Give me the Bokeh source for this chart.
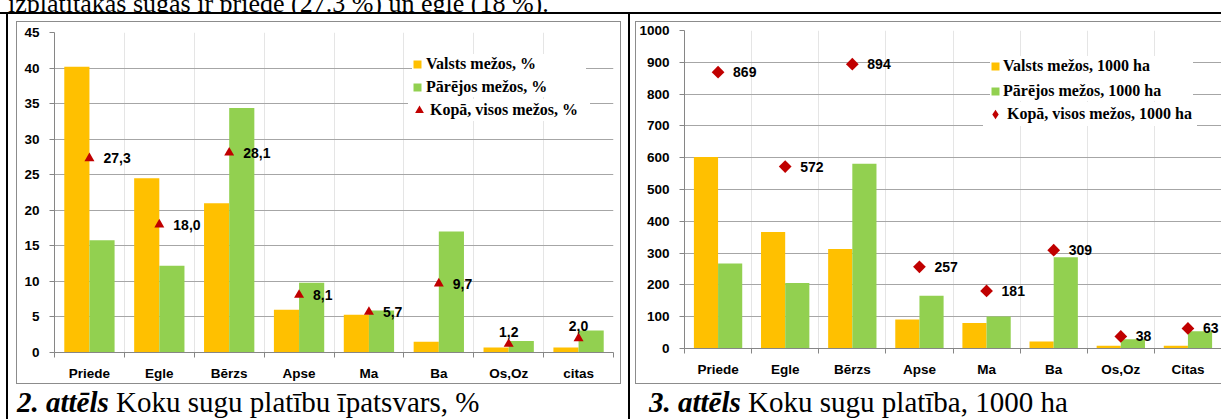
from bokeh.plotting import figure
from bokeh.models import (Range1d, LinearAxis, FixedTicker,
                          SingleIntervalTicker, ColumnDataSource, Legend, LegendItem, Div, Spacer)
from bokeh.layouts import row, column
from bokeh.transform import dodge
from bokeh.core.properties import value
from bokeh.embed import file_html
from bokeh.resources import INLINE
import math

# ---------------- data ----------------
species_pct = ["Priede", "Egle", "Bērzs", "Apse", "Ma", "Ba", "Os,Oz", "citas"]
valsts_pct = [40.2, 24.5, 21.0, 6.0, 5.3, 1.5, 0.7, 0.7]
parejie_pct = [15.8, 12.2, 34.4, 9.8, 5.9, 17.0, 1.6, 3.1]
kopa_pct = [27.3, 18.0, 28.1, 8.1, 5.7, 9.7, 1.2, 2.0]

species_ha = ["Priede", "Egle", "Bērzs", "Apse", "Ma", "Ba", "Os,Oz", "Citas"]
valsts_ha = [602, 366, 313, 91, 80, 22, 9, 9]
parejie_ha = [267, 206, 581, 166, 101, 287, 29, 54]
kopa_ha = [869, 572, 894, 257, 181, 309, 38, 63]

names_pct = ["Valsts mežos, %", "Pārējos mežos, %", "Kopā, visos mežos, %"]
names_ha = ["Valsts mežos, 1000 ha", "Pārējos mežos, 1000 ha", "Kopā, visos mežos, 1000 ha"]

caption_pct = ("2. attēls", "Koku sugu platību īpatsvars, %")
caption_ha = ("3. attēls", "Koku sugu platība, 1000 ha")
top_line = "izplatītākās sugas ir priede (27.3 %) un egle (18 %)."

# ---------------- style ----------------
ORANGE = "#FFC000"
GREEN = "#92D050"
RED = "#C00000"
AXIS = "#868686"
GRID = "#A6A6A6"
FRAME = "#8C8C8C"
SANS = "Liberation Sans"
SERIF = "Liberation Serif"


def chart(cats, valsts, parejie, kopa, texts, names, ymax, step, w, h,
          borders, marker, msize, mangle, label_dx, legA, legB, proxy_marker):
    bl, br, bt, bb = borders
    n = len(cats)
    p = figure(width=w, height=h, x_range=Range1d(0, n),
               y_range=Range1d(0, ymax), x_axis_location=None,
               output_backend="svg", toolbar_location=None,
               min_border_left=bl, min_border_right=br,
               min_border_top=bt, min_border_bottom=bb,
               background_fill_color="white", border_fill_color="white")
    p.outline_line_color = None

    ya = p.yaxis[0]
    ya.ticker = SingleIntervalTicker(interval=step, num_minor_ticks=0)
    ya.axis_line_color = AXIS
    ya.major_tick_line_color = AXIS
    ya.major_tick_out = 5
    ya.major_tick_in = 0
    ya.minor_tick_line_color = None
    ya.major_label_text_font = SANS
    ya.major_label_text_font_style = "bold"
    ya.major_label_text_font_size = "13.5px"
    ya.major_label_text_color = "black"
    ya.major_label_standoff = 10
    p.ygrid[0].ticker = ya.ticker
    p.ygrid[0].grid_line_color = GRID

    centers = [i + 0.5 for i in range(n)]
    # separator ticks between categories
    ta = LinearAxis(ticker=FixedTicker(ticks=list(range(n + 1)), minor_ticks=[]),
                    axis_line_color=AXIS, major_tick_line_color=AXIS,
                    major_tick_out=5, major_tick_in=0, minor_tick_line_color=None,
                    major_label_text_font_size="0px", major_label_text_color=None,
                    major_label_standoff=0)
    p.add_layout(ta, "below")
    # category names at centers
    ca = LinearAxis(ticker=FixedTicker(ticks=centers, minor_ticks=[]),
                    major_label_overrides={c: t for c, t in zip(centers, cats)},
                    axis_line_color=None, major_tick_line_color=None,
                    major_tick_out=0, major_tick_in=0, minor_tick_line_color=None,
                    major_label_standoff=8, major_label_text_font=SANS,
                    major_label_text_font_style="bold",
                    major_label_text_font_size="13.5px",
                    major_label_text_color="black")
    p.add_layout(ca, "below")

    small = [v < 0.07 * ymax for v in kopa]
    above = [s and label_dx == 14 for s in small]
    src = ColumnDataSource(dict(
        x=centers, valsts=valsts, parejie=parejie, kopa=kopa, txt=texts,
        xo=[0 if a else label_dx for a in above],
        yo=[-7 if a else 0 for a in above],
        al=["center" if a else "left" for a in above],
        bl=["bottom" if a else "middle" for a in above],
    ))
    r1 = p.vbar(x=dodge("x", -0.18), top="valsts", width=0.36,
                source=src, fill_color=ORANGE, line_color=None)
    r2 = p.vbar(x=dodge("x", 0.18), top="parejie", width=0.36,
                source=src, fill_color=GREEN, line_color=None)
    r3 = p.scatter(x="x", y="kopa", marker=marker, size=msize, angle=mangle,
                   fill_color=RED, line_color=None, source=src)
    p.text(x="x", y="kopa", text="txt", x_offset="xo", y_offset="yo",
           text_align="al", text_baseline="bl", text_font=value(SANS),
           text_font_style="bold", text_font_size="14px", text_color="black",
           source=src)

    if proxy_marker is not None:
        # legend-only glyph (not drawn in the plot area)
        proxy = p.scatter(x="x", y="kopa", marker=proxy_marker, size=msize,
                          fill_color=RED, line_color=None, source=src, visible=False)
    else:
        proxy = r3

    common = dict(orientation="vertical", label_height=20,
                  label_text_font=SERIF, label_text_font_style="bold",
                  label_text_font_size="16px", label_text_color="black",
                  border_line_color=None, background_fill_color="white",
                  background_fill_alpha=1.0, margin=0)
    (ax, ay, asp, astand, alw) = legA
    la = Legend(items=[LegendItem(label=names[0], renderers=[r1]),
                       LegendItem(label=names[1], renderers=[r2])],
                location=(ax, ay), glyph_width=10, glyph_height=10, spacing=asp,
                padding=10, label_standoff=astand, label_width=alw, **common)
    (bx, by, bg, bpad, bstand, blw) = legB
    lb = Legend(items=[LegendItem(label=names[2], renderers=[proxy])],
                location=(bx, by), glyph_width=bg, glyph_height=bg, spacing=0,
                padding=bpad, label_standoff=bstand, label_width=blw, **common)
    p.add_layout(la)
    p.add_layout(lb)
    return p


texts_pct = [f"{v:.1f}".replace(".", ",") for v in kopa_pct]
texts_ha = [str(v) for v in kopa_ha]

p1 = chart(species_pct, valsts_pct, parejie_pct, kopa_pct, texts_pct, names_pct,
           45, 5, 603, 361, (37, 7, 10, 31), "triangle", 10, 0, 14,
           (358, 255, 3, 4, 160), (354, 231, 22, 1, 0, 160), None)
p2 = chart(species_ha, valsts_ha, parejie_ha, kopa_ha, texts_ha, names_ha,
           1000, 100, 585, 361, (48, 0, 8, 35), "square", 9, math.pi / 4, 15,
           (306, 247, 5, 3, 190), (299, 222, 24, 0, 0, 190), "diamond")


def box(w, h, color):
    return Div(width=w, height=h, text="", margin=0,
               styles={"background-color": color})


def caption(w, parts, left):
    html = ('<div style="font-family:\'Liberation Serif\',serif;font-size:29px;'
            'line-height:29px;white-space:nowrap;color:black;margin:4px 0 0 %dpx;">'
            '<b><i>%s</i></b> %s</div>' % (left, parts[0], parts[1]))
    return Div(width=w, height=35, text=html, margin=0, styles={"overflow": "hidden"})


top_div = Div(width=1221, height=12, margin=0, styles={"overflow": "hidden"},
              text=('<div style="font-family:\'Liberation Serif\',serif;font-size:26px;'
                    'line-height:26px;white-space:nowrap;color:black;margin:-15px 0 0 8px;">'
                    '%s</div>' % top_line))

CELL_H = 405
left_cell = column(
    Spacer(width=620, height=7),
    row(Spacer(width=8, height=363),
        column(box(605, 1, FRAME),
               row(box(1, 361, FRAME), p1, box(1, 361, FRAME)),
               box(605, 1, FRAME)),
        Spacer(width=7, height=363)),
    caption(620, caption_pct, 9),
)
right_cell = column(
    Spacer(width=591, height=7),
    row(Spacer(width=5, height=363),
        column(box(586, 1, FRAME),
               row(box(1, 361, FRAME), p2),
               box(586, 1, FRAME))),
    caption(591, caption_ha, 19),
)
root = column(
    top_div,
    box(1221, 2, "black"),
    row(Spacer(width=6, height=CELL_H), box(2, CELL_H, "black"), left_cell,
        box(2, CELL_H, "black"), right_cell),
)

open("out.html", "w").write(file_html(root, INLINE))
